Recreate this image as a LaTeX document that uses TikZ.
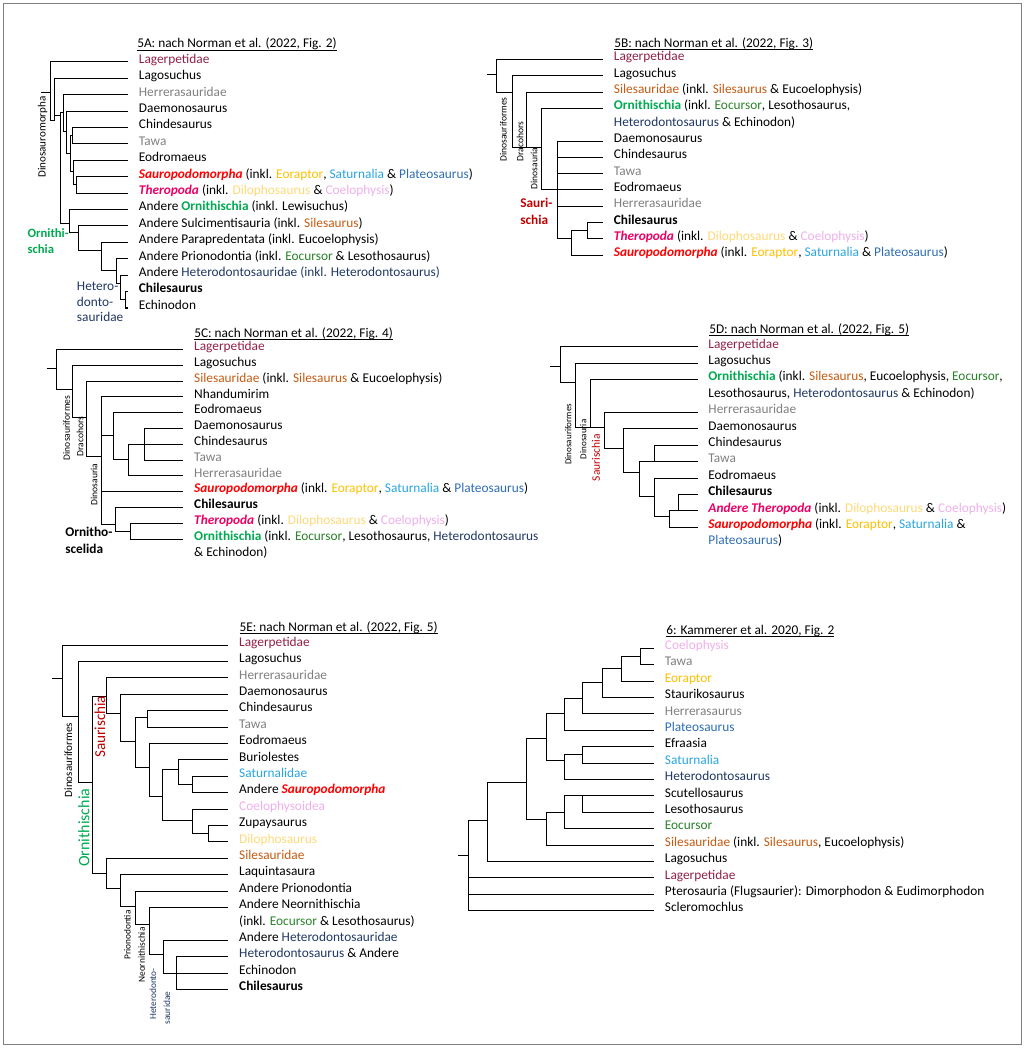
\documentclass[tikz,border=0pt]{standalone}
\usepackage{fontspec}
\setmainfont{Carlito}
\definecolor{cLag}{RGB}{146,32,72}
\definecolor{cGry}{RGB}{128,128,128}
\definecolor{cSil}{RGB}{197,90,17}
\definecolor{cOrn}{RGB}{0,170,80}
\definecolor{cEoc}{RGB}{40,130,40}
\definecolor{cHet}{RGB}{32,56,100}
\definecolor{cEor}{RGB}{255,192,0}
\definecolor{cSat}{RGB}{40,165,225}
\definecolor{cPla}{RGB}{46,109,180}
\definecolor{cDil}{RGB}{255,217,120}
\definecolor{cCoe}{RGB}{240,175,235}
\definecolor{cSau}{RGB}{255,0,0}
\definecolor{cThe}{RGB}{235,0,100}
\definecolor{cSaur}{RGB}{192,0,0}
\newcommand{\fsz}[1]{\fontsize{#1}{#1}\selectfont}
\newcommand{\kol}[2]{\textcolor{#1}{#2}}
\newcommand{\tSauro}{\kol{cSau}{\textbf{\textit{Sauropodomorpha}}}}
\newcommand{\tThero}{\kol{cThe}{\textbf{\textit{Theropoda}}}}
\newcommand{\tOrn}{\kol{cOrn}{\textbf{Ornithischia}}}
\newcommand{\tSauIncl}{(inkl. \kol{cEor}{Eoraptor}, \kol{cSat}{Saturnalia} \& \kol{cPla}{Plateosaurus})}
\newcommand{\tTheIncl}{(inkl. \kol{cDil}{Dilophosaurus} \& \kol{cCoe}{Coelophysis})}
\newcommand{\tSilIncl}{\kol{cSil}{Silesauridae} (inkl. \kol{cSil}{Silesaurus} \& Eucoelophysis)}
\newcommand{\ttlu}[1]{\underline{\smash{#1}}}
\begin{document}
\begin{tikzpicture}[x=0.75pt,y=-0.75pt,
  ln/.style={line width=0.75pt,black},
  leaf/.style={anchor=west,inner xsep=8pt,inner ysep=0pt,text height=6pt,text depth=4pt,font=\fsz{10}},
  ttl/.style={anchor=base west,inner sep=0pt,font=\fsz{10}},
  lab/.style={anchor=west,inner sep=0pt,text height=6pt,text depth=4pt,font=\fsz{10}},
  rot/.style={rotate=90,inner sep=0pt,anchor=center},
  down/.style={yshift=-#1*0.75pt}]
\useasboundingbox (0,0) rectangle (1025,1048);
\draw[line width=0.75pt,gray] (3.5,3.5) rectangle (1021.5,1044.5);

% ================= 5A =================
\node[ttl] (aT) at (137,48) {\ttlu{5A: nach Norman et al. (2022, Fig. 2)}};
\begin{scope}[down=1]
\node[leaf] (a0) at (128,61) {\kol{cLag}{Lagerpetidae}};
\node[leaf] (a1) at (128,77.4) {Lagosuchus};
\node[leaf] (a2) at (128,93.8) {\kol{cGry}{Herrerasauridae}};
\node[leaf] (a3) at (128,110.2) {Daemonosaurus};
\node[leaf] (a4) at (128,126.6) {Chindesaurus};
\node[leaf] (a5) at (128,143) {\kol{cGry}{Tawa}};
\node[leaf] (a6) at (128,159.4) {Eodromaeus};
\node[leaf] (a7) at (128,175.8) {\tSauro{} \tSauIncl};
\node[leaf] (a8) at (128,192.2) {\tThero{} \tTheIncl};
\node[leaf] (a9) at (128,208.6) {Andere \tOrn{} (inkl. Lewisuchus)};
\node[leaf] (a10) at (128,225) {Andere Sulcimentisauria (inkl. \kol{cSil}{Silesaurus})};
\node[leaf] (a11) at (128,241.4) {Andere Parapredentata (inkl. Eucoelophysis)};
\node[leaf] (a12) at (128,257.8) {Andere Prionodontia (inkl. \kol{cEoc}{Eocursor} \& Lesothosaurus)};
\node[leaf] (a13) at (128,274.2) {Andere \kol{cHet}{Heterodontosauridae (inkl. Heterodontosaurus)}};
\node[leaf] (a14) at (128,290.6) {\textbf{Chilesaurus}};
\node[leaf] (a15) at (128,307) {Echinodon};
\coordinate (aST) at (76.7,184);
\coordinate (aEST) at (73.3,171);
\coordinate (aCT) at (72.3,135);
\coordinate (aX150) at (70,153);
\coordinate (aX140) at (66.7,131);
\coordinate (aX130) at (63.3,112);
\coordinate (aCE) at (125,299);
\coordinate (aHet) at (120,283);
\coordinate (aPri) at (116,270);
\coordinate (aPar) at (101.7,250);
\coordinate (aSul) at (78.7,232);
\coordinate (aOrn) at (69.3,223);
\coordinate (aDino) at (60.7,115);
\coordinate (aLag) at (54.7,120);
\coordinate (aRoot) at (50.7,91.7);
\coordinate (aS) at (41,91.7);
\foreach \pa/\ch in {aST/a7.west,aST/a8.west,aEST/a6.west,aEST/aST,aCT/a4.west,aCT/a5.west,
  aX150/aCT,aX150/aEST,aX140/a3.west,aX140/aX150,aX130/a2.west,aX130/aX140,
  aCE/a14.west,aCE/a15.west,aHet/a13.west,aHet/aCE,aPri/a12.west,aPri/aHet,aPar/a11.west,aPar/aPri,
  aSul/a10.west,aSul/aPar,aOrn/a9.west,aOrn/aSul,aDino/aX130,aDino/aOrn,aLag/a1.west,aLag/aDino,
  aRoot/a0.west,aRoot/aLag}
  {\draw[ln] (\pa) |- (\ch);}
\draw[ln] (aS) -- (aRoot);
\node[rot,font=\fsz{8.3}] (aLDm) at (42.7,136) {Dinosauromorpha};
\node[lab,font=\fsz{9.5}\bfseries,text=cOrn] (aLO1) at (27.3,234.8) {Ornithi-};
\node[lab,font=\fsz{9.5}\bfseries,text=cOrn] (aLO2) at (27.3,251.5) {schia};
\node[lab,text=cHet] (aLH1) at (76.7,288.2) {Hetero-};
\node[lab,text=cHet] (aLH2) at (76.7,304.2) {donto-};
\node[lab,text=cHet] (aLH3) at (76.7,319.5) {sauridae};
\end{scope}

% ================= 5B =================
\node[ttl] (bT) at (614,47.3) {\ttlu{5B: nach Norman et al. (2022, Fig. 3)}};
\begin{scope}[down=1.2]
\node[leaf] (b0) at (603,58.2) {\kol{cLag}{Lagerpetidae}};
\node[leaf] (b1) at (603,74.5) {Lagosuchus};
\node[leaf] (b2) at (603,90.9) {\tSilIncl};
\node[leaf] (b3) at (603,107.2) {\tOrn{} (inkl. \kol{cEoc}{Eocursor}, Lesothosaurus,};
\node[leaf] (b4) at (603,123.5) {\kol{cHet}{Heterodontosaurus} \& Echinodon)};
\node[leaf] (b5) at (603,139.9) {Daemonosaurus};
\node[leaf] (b6) at (603,156.2) {Chindesaurus};
\node[leaf] (b7) at (603,172.5) {\kol{cGry}{Tawa}};
\node[leaf] (b8) at (603,188.8) {Eodromaeus};
\node[leaf] (b9) at (603,205.2) {\kol{cGry}{Herrerasauridae}};
\node[leaf] (b10) at (603,221.5) {\textbf{Chilesaurus}};
\node[leaf] (b11) at (603,237.8) {\tThero{} \tTheIncl};
\node[leaf] (b12) at (603,254.2) {\tSauro{} \tSauIncl};
\coordinate (bCT) at (587.3,229.6);
\coordinate (bCTS) at (571.7,237.8);
\coordinate (bSaur) at (557.3,188.8);
\coordinate (bDino) at (541,146.7);
\coordinate (bDrac) at (526.7,146.7);
\coordinate (bDinoF) at (512.7,91.7);
\coordinate (bRoot) at (496.7,73.3);
\coordinate (bS) at (486.7,73.3);
\foreach \pa/\ch in {bCT/b10.west,bCT/b11.west,bCTS/bCT,bCTS/b12.west,
  bSaur/b5.west,bSaur/b6.west,bSaur/b7.west,bSaur/b8.west,bSaur/b9.west,bSaur/bCTS,
  bDino/b3.west,bDino/bSaur,bDrac/b2.west,bDrac/bDino,bDinoF/b1.west,bDinoF/bDrac,
  bRoot/b0.west,bRoot/bDinoF}
  {\draw[ln] (\pa) |- (\ch);}
\draw[ln] (bS) -- (bRoot);
\node[rot,font=\fsz{7.2}] (bLDf) at (503.3,128.3) {Dinosauriformes};
\node[rot,font=\fsz{7.2}] (bLDr) at (520,140) {Dracohors};
\node[rot,font=\fsz{7.2}] (bLDn) at (534,167.3) {Dinosauria};
\node[lab,font=\fsz{10}\bfseries,text=cSaur] (bLS1) at (520,204.8) {Sauri-};
\node[lab,font=\fsz{10}\bfseries,text=cSaur] (bLS2) at (520,221.5) {schia};
\end{scope}

% ================= 5C =================
\node[ttl] (cT) at (194,337.5) {\ttlu{5C: nach Norman et al. (2022, Fig. 4)}};
\begin{scope}[down=1.2]
\node[leaf] (c0) at (183.3,348.2) {\kol{cLag}{Lagerpetidae}};
\node[leaf] (c1) at (183.3,364) {Lagosuchus};
\node[leaf] (c2) at (183.3,379.8) {\tSilIncl};
\node[leaf] (c3) at (183.3,395.6) {Nhandumirim};
\node[leaf] (c4) at (183.3,411.4) {Eodromaeus};
\node[leaf] (c5) at (183.3,427.2) {Daemonosaurus};
\node[leaf] (c6) at (183.3,443) {Chindesaurus};
\node[leaf] (c7) at (183.3,458.8) {\kol{cGry}{Tawa}};
\node[leaf] (c8) at (183.3,474.6) {\kol{cGry}{Herrerasauridae}};
\node[leaf] (c9) at (183.3,490.4) {\tSauro{} \tSauIncl};
\node[leaf] (c10) at (183.3,506.2) {\textbf{Chilesaurus}};
\node[leaf] (c11) at (183.3,522) {\tThero{} \tTheIncl};
\node[leaf] (c12) at (183.3,537.8) {\tOrn{} (inkl. \kol{cEoc}{Eocursor}, Lesothosaurus, \kol{cHet}{Heterodontosaurus}};
\node[leaf] (c13) at (183.3,553.6) {\& Echinodon)};
\coordinate (cDCT) at (144,443);
\coordinate (cX325) at (128.3,458.3);
\coordinate (cX280) at (113.3,434);
\coordinate (cOT) at (130,530);
\coordinate (cOS) at (115.7,523.3);
\coordinate (cDino) at (101,455);
\coordinate (cDrac) at (86.7,416.7);
\coordinate (cDinoF) at (72.3,388.3);
\coordinate (cRoot) at (56,367.3);
\coordinate (cS) at (46.7,367.3);
\foreach \pa/\ch in {cDCT/c5.west,cDCT/c6.west,cDCT/c7.west,cX325/cDCT,cX325/c8.west,
  cX280/c4.west,cX280/cX325,cOT/c11.west,cOT/c12.west,cOS/c10.west,cOS/cOT,
  cDino/c3.west,cDino/cX280,cDino/c9.west,cDino/cOS,cDrac/c2.west,cDrac/cDino,
  cDinoF/c1.west,cDinoF/cDrac,cRoot/c0.west,cRoot/cDinoF}
  {\draw[ln] (\pa) |- (\ch);}
\draw[ln] (cS) -- (cRoot);
\node[rot,font=\fsz{7.2}] (cLDf) at (66.7,426.7) {Dinosauriformes};
\node[rot,font=\fsz{7.2}] (cLDr) at (80,435) {Dracohors};
\node[rot,font=\fsz{7.2}] (cLDn) at (94,483.3) {Dinosauria};
\node[lab,font=\fsz{10}\bfseries] (cLO1) at (65,533.8) {Ornitho-};
\node[lab,font=\fsz{10}\bfseries] (cLO2) at (65,550.8) {scelida};
\end{scope}

% ================= 5D =================
\node[ttl] (dT) at (709,333) {\ttlu{5D: nach Norman et al. (2022, Fig. 5)}};
\begin{scope}[down=1]
\node[leaf] (d0) at (697.5,345.8) {\kol{cLag}{Lagerpetidae}};
\node[leaf] (d1) at (697.5,362.2) {Lagosuchus};
\node[leaf] (d2) at (697.5,378.6) {\tOrn{} (inkl. \kol{cSil}{Silesaurus}, Eucoelophysis, \kol{cEoc}{Eocursor},};
\node[leaf] (d3) at (697.5,395) {Lesothosaurus, \kol{cHet}{Heterodontosaurus} \& Echinodon)};
\node[leaf] (d4) at (697.5,411.4) {\kol{cGry}{Herrerasauridae}};
\node[leaf] (d5) at (697.5,427.8) {Daemonosaurus};
\node[leaf] (d6) at (697.5,444.2) {Chindesaurus};
\node[leaf] (d7) at (697.5,460.6) {\kol{cGry}{Tawa}};
\node[leaf] (d8) at (697.5,477) {Eodromaeus};
\node[leaf] (d9) at (697.5,493.4) {\textbf{Chilesaurus}};
\node[leaf] (d10) at (697.5,509.8) {\kol{cThe}{\textbf{\textit{Andere Theropoda}}} \tTheIncl};
\node[leaf] (d11) at (697.5,526.2) {\tSauro{} (inkl. \kol{cEor}{Eoraptor}, \kol{cSat}{Saturnalia} \&};
\node[leaf] (d12) at (697.5,542.6) {\kol{cPla}{Plateosaurus})};
\coordinate (dCT) at (654.3,460.6);
\coordinate (dChT) at (678.3,509.8);
\coordinate (dX388) at (669.3,515);
\coordinate (dX343) at (654.3,495);
\coordinate (dX297) at (639,471);
\coordinate (dX250) at (623.3,447.7);
\coordinate (dSaur) at (604.3,426.7);
\coordinate (dDino) at (590.7,426.7);
\coordinate (dDinoF) at (575.7,381.7);
\coordinate (dRoot) at (560.7,365);
\coordinate (dS) at (550,365);
\foreach \pa/\ch in {dCT/d6.west,dCT/d7.west,dChT/d9.west,dChT/d10.west,dX388/dChT,dX388/d11.west,
  dX343/d8.west,dX343/dX388,dX297/dCT,dX297/dX343,dX250/d5.west,dX250/dX297,
  dSaur/d4.west,dSaur/dX250,dDino/d2.west,dDino/dSaur,dDinoF/d1.west,dDinoF/dDino,
  dRoot/d0.west,dRoot/dDinoF}
  {\draw[ln] (\pa) |- (\ch);}
\draw[ln] (dS) -- (dRoot);
\node[rot,font=\fsz{6.8}] (dLDf) at (568.3,433.3) {Dinosauriformes};
\node[rot,font=\fsz{6.8}] (dLDn) at (583.3,438.3) {Dinosauria};
\node[rot,font=\fsz{8.6},text=cSaur] (dLS) at (596,456.7) {Saurischia};
\end{scope}

% ================= 5E =================
\node[ttl] (eT) at (239.3,631.3) {\ttlu{5E: nach Norman et al. (2022, Fig. 5)}};
\begin{scope}[down=1]
\node[leaf] (e0) at (228.3,644) {\kol{cLag}{Lagerpetidae}};
\node[leaf] (e1) at (228.3,660.4) {Lagosuchus};
\node[leaf] (e2) at (228.3,676.8) {\kol{cGry}{Herrerasauridae}};
\node[leaf] (e3) at (228.3,693.2) {Daemonosaurus};
\node[leaf] (e4) at (228.3,709.6) {Chindesaurus};
\node[leaf] (e5) at (228.3,726) {\kol{cGry}{Tawa}};
\node[leaf] (e6) at (228.3,742.4) {Eodromaeus};
\node[leaf] (e7) at (228.3,758.8) {Buriolestes};
\node[leaf] (e8) at (228.3,775.2) {\kol{cSat}{Saturnalidae}};
\node[leaf] (e9) at (228.3,791.6) {Andere \tSauro};
\node[leaf] (e10) at (228.3,808) {\kol{cCoe}{Coelophysoidea}};
\node[leaf] (e11) at (228.3,824.4) {Zupaysaurus};
\node[leaf] (e12) at (228.3,840.8) {\kol{cDil}{Dilophosaurus}};
\node[leaf] (e13) at (228.3,857.2) {\kol{cSil}{Silesauridae}};
\node[leaf] (e14) at (228.3,873.6) {Laquintasaura};
\node[leaf] (e15) at (228.3,890) {Andere Prionodontia};
\node[leaf] (e16) at (228.3,906.4) {Andere Neornithischia};
\node[leaf] (e17) at (228.3,922.8) {(inkl. \kol{cEoc}{Eocursor} \& Lesothosaurus)};
\node[leaf] (e18) at (228.3,939.2) {Andere \kol{cHet}{Heterodontosauridae}};
\node[leaf] (e19) at (228.3,955.6) {\kol{cHet}{Heterodontosaurus} \& Andere};
\node[leaf] (e20) at (228.3,972) {Echinodon};
\node[leaf] (e21) at (228.3,988.4) {\textbf{Chilesaurus}};
\coordinate (eCT) at (147.7,716.7);
\coordinate (eBS) at (192.7,783.4);
\coordinate (eBu) at (178.3,768.3);
\coordinate (eZD) at (208.3,832.6);
\coordinate (eCo) at (192.7,819.3);
\coordinate (eX428) at (162.7,795);
\coordinate (eX388) at (149.3,766);
\coordinate (eX347) at (135.7,740.7);
\coordinate (eX300) at (120,712.7);
\coordinate (eSaur) at (106,695);
\coordinate (eHD) at (176,972);
\coordinate (eHet) at (163.3,953.3);
\coordinate (eNeo) at (149.3,923.3);
\coordinate (ePri) at (135,905);
\coordinate (eX300b) at (120,887.3);
\coordinate (eOrn) at (106,872.3);
\coordinate (eDino) at (92.7,781.7);
\coordinate (eDinoF) at (78.7,715);
\coordinate (eRoot) at (62.7,677.3);
\coordinate (eS) at (52.3,677.3);
\foreach \pa/\ch in {eCT/e4.west,eCT/e5.west,eBS/e8.west,eBS/e9.west,eBu/e7.west,eBu/eBS,
  eZD/e11.west,eZD/e12.west,eCo/e10.west,eCo/eZD,eX428/eBu,eX428/eCo,eX388/e6.west,eX388/eX428,
  eX347/eCT,eX347/eX388,eX300/e3.west,eX300/eX347,eSaur/e2.west,eSaur/eX300,
  eHD/e19.west,eHD/e20.west,eHD/e21.west,eHet/e18.west,eHet/eHD,eNeo/e16.west,eNeo/eHet,
  ePri/e15.west,ePri/eNeo,eX300b/e14.west,eX300b/ePri,eOrn/e13.west,eOrn/eX300b,
  eDino/eSaur,eDino/eOrn,eDinoF/e1.west,eDinoF/eDino,eRoot/e0.west,eRoot/eDinoF}
  {\draw[ln] (\pa) |- (\ch);}
\draw[ln] (eS) -- (eRoot);
\node[rot,font=\fsz{8.3}] (eLDf) at (68.3,759) {Dinosauriformes};
\node[rot,font=\fsz{12},text=cOrn] (eLO) at (84,826.7) {Ornithischia};
\node[rot,font=\fsz{11.4},text=cSaur] (eLS) at (100,725.8) {Saurischia};
\node[rot,font=\fsz{7}] (eLP) at (127.3,934) {Prionodontia};
\node[rot,font=\fsz{7}] (eLN) at (141.7,954) {Neornithischia};
\node[rot,font=\fsz{7},text=cHet] (eLH1) at (153,993) {Heterodonto-};
\node[rot,font=\fsz{7},text=cHet] (eLH2) at (167,1007) {sauridae};
\end{scope}

% ================= 6 =================
\node[ttl] (fT) at (666,634) {\ttlu{6: Kammerer et al. 2020, Fig. 2}};
\begin{scope}[down=0.5]
\node[leaf] (f0) at (654,647.7) {\kol{cCoe}{Coelophysis}};
\node[leaf] (f1) at (654,664.1) {\kol{cGry}{Tawa}};
\node[leaf] (f2) at (654,680.5) {\kol{cEor}{Eoraptor}};
\node[leaf] (f3) at (654,696.9) {Staurikosaurus};
\node[leaf] (f4) at (654,713.3) {\kol{cGry}{Herrerasaurus}};
\node[leaf] (f5) at (654,729.7) {\kol{cPla}{Plateosaurus}};
\node[leaf] (f6) at (654,746.1) {Efraasia};
\node[leaf] (f7) at (654,762.5) {\kol{cSat}{Saturnalia}};
\node[leaf] (f8) at (654,778.9) {\kol{cHet}{Heterodontosaurus}};
\node[leaf] (f9) at (654,795.3) {Scutellosaurus};
\node[leaf] (f10) at (654,811.7) {Lesothosaurus};
\node[leaf] (f11) at (654,828.1) {\kol{cEoc}{Eocursor}};
\node[leaf] (f12) at (654,844.5) {\kol{cSil}{Silesauridae} (inkl. \kol{cSil}{Silesaurus}, Eucoelophysis)};
\node[leaf] (f13) at (654,860.9) {Lagosuchus};
\node[leaf] (f14) at (654,877.3) {\kol{cLag}{Lagerpetidae}};
\node[leaf] (f15) at (654,893.7) {Pterosauria (Flugsaurier): Dimorphodon \& Eudimorphodon};
\node[leaf] (f16) at (654,910.1) {Scleromochlus};
\coordinate (fCT) at (640.7,655.9);
\coordinate (fX513) at (621,668.3);
\coordinate (fX457) at (602.3,682.3);
\coordinate (fX398) at (582.7,697.7);
\coordinate (fX342) at (564,713.3);
\coordinate (fES) at (582.7,754.3);
\coordinate (fX342b) at (564,760);
\coordinate (fX288) at (546,737.7);
\coordinate (fSL) at (582.7,795.3);
\coordinate (fX342c) at (564,812.3);
\coordinate (fX288b) at (546,819);
\coordinate (fDino) at (526,781.7);
\coordinate (fDinoF) at (487.7,820);
\coordinate (fRoot) at (468.3,855);
\coordinate (fS) at (458.3,855);
\foreach \pa/\ch in {fCT/f0.west,fCT/f1.west,fX513/fCT,fX513/f2.west,fX457/fX513,fX457/f3.west,
  fX398/fX457,fX398/f4.west,fX342/fX398,fX342/f5.west,fES/f6.west,fES/f7.west,fX342b/fES,fX342b/f8.west,
  fX288/fX342,fX288/fX342b,fSL/f9.west,fSL/f10.west,fX342c/fSL,fX342c/f11.west,fX288b/fX342c,fX288b/f12.west,
  fDino/fX288,fDino/fX288b,fDinoF/fDino,fDinoF/f13.west,
  fRoot/fDinoF,fRoot/f14.west,fRoot/f15.west,fRoot/f16.west}
  {\draw[ln] (\pa) |- (\ch);}
\draw[ln] (fS) -- (fRoot);
\end{scope}
\end{tikzpicture}
\end{document}
